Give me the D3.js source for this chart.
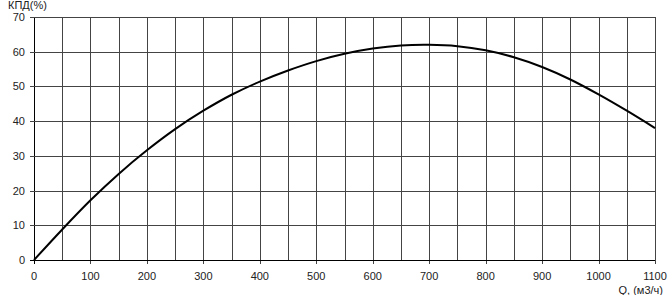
<!DOCTYPE html>
<html>
<head>
<meta charset="utf-8">
<script src="https://cdn.jsdelivr.net/npm/d3@7"></script>
<style>
  body { margin: 0; background: #fff; }
  text { font-family: "Liberation Sans", Arial, sans-serif; font-size: 11px; fill: #222; }
</style>
</head>
<body>
<div id="vis"></div>
<script>
// data
var flowQ = [0, 50, 100, 150, 200, 250, 300, 350, 400, 450, 500, 550,
  600, 650, 700, 750, 800, 850, 900, 950, 1000, 1050, 1100];
var efficiency = [0, 8.8, 17.2, 24.8, 31.6, 37.7, 43, 47.6, 51.4, 54.6, 57.3, 59.4,
  60.9, 61.8, 62, 61.6, 60.4, 58.4, 55.6, 52, 47.7, 43, 38];
var xTicks = [0, 100, 200, 300, 400, 500, 600, 700, 800, 900, 1000, 1100];
var xGrid = d3.range(0, 1101, 50);
var yTicks = [0, 10, 20, 30, 40, 50, 60, 70];

var width = 669, height = 295;
var margin = { top: 17, left: 34, bottom: 35, right: 14 };

var svg = d3.select('#vis').append('svg')
  .attr('width', width)
  .attr('height', height);

var x = d3.scaleLinear().domain([0, 1100]).range([margin.left, width - margin.right]);
var y = d3.scaleLinear().domain([0, 70]).range([height - margin.bottom, margin.top]);

// grid
svg.append('g').selectAll('line')
  .data(xGrid)
  .enter()
  .append('line')
  .attr('x1', function(d) { return Math.round(x(d)) + 0.5; })
  .attr('x2', function(d) { return Math.round(x(d)) + 0.5; })
  .attr('y1', y(70))
  .attr('y2', function(d) { return d % 100 === 0 ? y(0) + 4 : y(0); })
  .attr('stroke', function(d) { return d === 0 ? '#000' : '#444'; })
  .attr('stroke-width', 1);

svg.append('g').selectAll('line')
  .data(yTicks)
  .enter()
  .append('line')
  .attr('x1', x(0) - 4)
  .attr('x2', x(1100))
  .attr('y1', function(d) { return Math.round(y(d)) + 0.5; })
  .attr('y2', function(d) { return Math.round(y(d)) + 0.5; })
  .attr('stroke', function(d) { return d === 0 ? '#000' : '#444'; })
  .attr('stroke-width', 1);

// tick labels
svg.append('g').selectAll('text')
  .data(xTicks)
  .enter()
  .append('text')
  .attr('x', function(d) { return x(d); })
  .attr('y', y(0) + 20)
  .attr('text-anchor', 'middle')
  .text(function(d) { return d; });

svg.append('g').selectAll('text')
  .data(yTicks)
  .enter()
  .append('text')
  .attr('x', x(0) - 9)
  .attr('y', function(d) { return y(d) + 4; })
  .attr('text-anchor', 'end')
  .text(function(d) { return d; });

// axis titles
svg.append('text')
  .attr('x', 8)
  .attr('y', 9)
  .text('КПД(%)');

svg.append('text')
  .attr('x', x(1100) + 8)
  .attr('y', y(0) + 34)
  .attr('text-anchor', 'end')
  .text('Q, (м3/ч)');

// curve
var line = d3.line()
  .x(function(d, i) { return x(flowQ[i]); })
  .y(function(d) { return y(d); })
  .curve(d3.curveCatmullRom);

svg.append('path')
  .datum(efficiency)
  .attr('d', line)
  .attr('fill', 'none')
  .attr('stroke', '#000')
  .attr('stroke-width', 2);
</script>
</body>
</html>
